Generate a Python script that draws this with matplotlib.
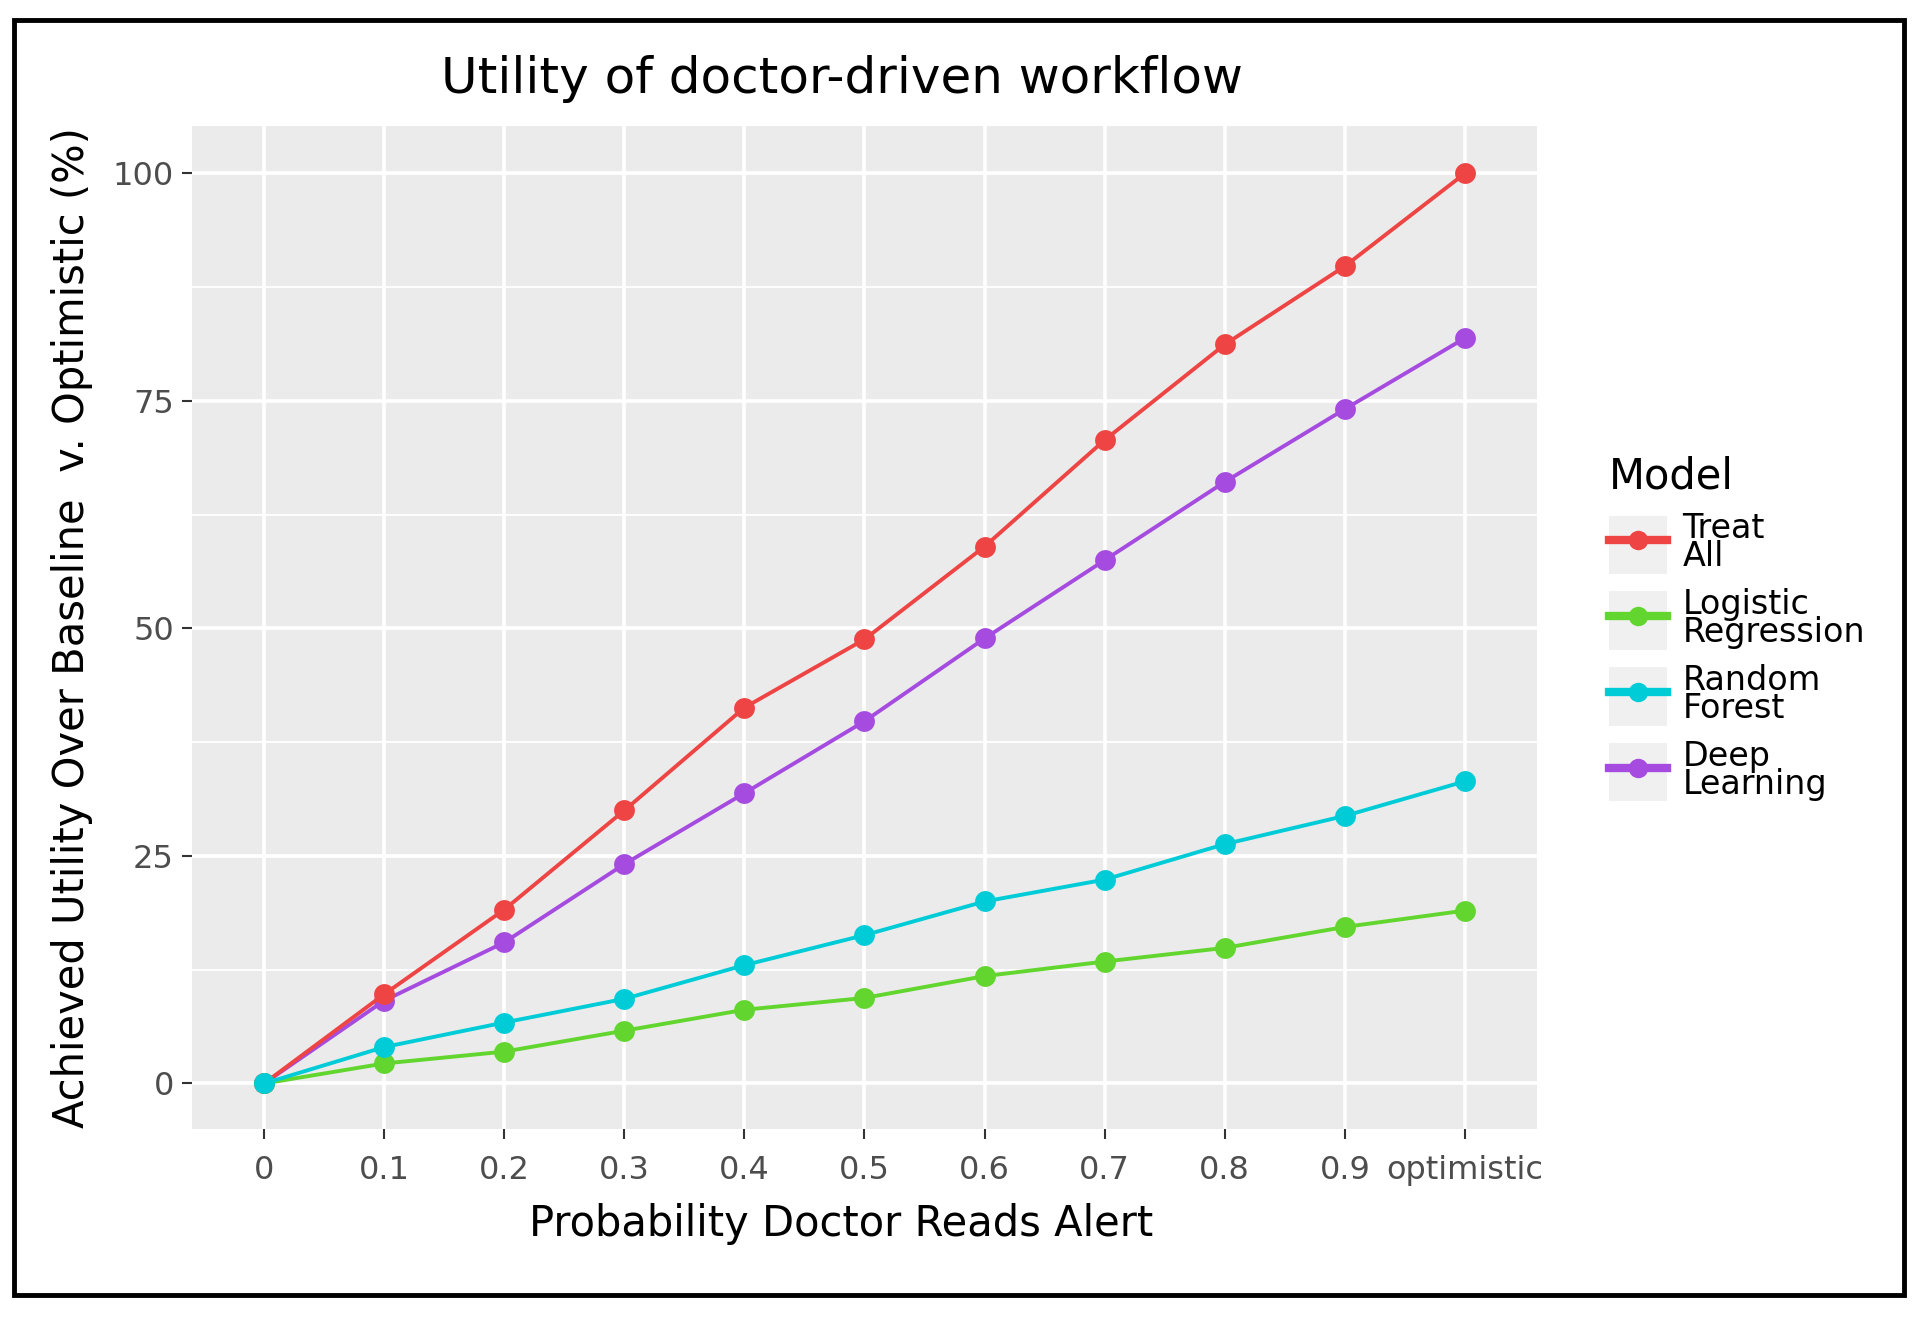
import matplotlib
matplotlib.use("Agg")
import matplotlib.pyplot as plt
from matplotlib.legend_handler import HandlerLine2D
from matplotlib.patches import Rectangle
from matplotlib.lines import Line2D
from matplotlib.ticker import MultipleLocator

plt.rcParams['font.family'] = ['DejaVu Sans']

categories = ["0", "0.1", "0.2", "0.3", "0.4", "0.5", "0.6", "0.7", "0.8", "0.9", "optimistic"]

treat_all = [0, 9.8, 19.1, 30.0, 41.3, 48.8, 59.0, 70.7, 81.2, 89.8, 100.0]
logistic_regression = [0, 2.2, 3.5, 5.8, 8.1, 9.4, 11.8, 13.4, 14.9, 17.2, 19.0]
random_forest = [0, 4.0, 6.7, 9.3, 13.0, 16.3, 20.0, 22.4, 26.3, 29.4, 33.2]
deep_learning = [0, 9.1, 15.5, 24.1, 31.9, 39.8, 48.9, 57.5, 66.1, 74.1, 81.9]

series_names = ["Treat\nAll", "Logistic\nRegression", "Random\nForest", "Deep\nLearning"]
series_colors = ["#EE4444", "#62D62E", "#00CCD8", "#A64BE0"]
series_values = [treat_all, logistic_regression, random_forest, deep_learning]
draw_order = [3, 0, 1, 2]

fig = plt.figure(figsize=(19.2, 13.2), dpi=100)
ax = fig.add_axes([0.100, 0.1447, 0.7005, 0.7598])

ax.set_facecolor("#EBEBEB")
for s in ax.spines.values():
    s.set_visible(False)

x = list(range(len(categories)))
for i in draw_order:
    ax.plot(x, series_values[i], color=series_colors[i], lw=2.8,
            marker='o', ms=15, mec='none', zorder=3)

ax.set_xlim(-0.6, 10.6)
ax.set_ylim(-5.0, 105.2)
ax.set_xticks(x)
ax.set_xticklabels(categories)
ax.yaxis.set_major_locator(MultipleLocator(25))
ax.yaxis.set_minor_locator(MultipleLocator(12.5))
ax.grid(which='major', color='white', lw=2.6, zorder=0)
ax.grid(which='minor', axis='y', color='white', lw=1.3, zorder=0)
ax.set_axisbelow(True)
ax.tick_params(axis='both', which='major', colors='#333333', labelcolor='#4D4D4D',
               labelsize=23, length=7, width=1.5, pad=6)
ax.tick_params(axis='y', which='minor', length=0)
ax.tick_params(axis='x', pad=12)

ax.set_xlabel("Probability Doctor Reads Alert", fontsize=30, labelpad=10)
ax.xaxis.set_label_coords(0.4827, -0.074)
ax.set_ylabel("Achieved Utility Over Baseline  v. Optimistic (%)", fontsize=30, labelpad=14)
fig.text(0.4385, 0.9400, "Utility of doctor-driven workflow", fontsize=36,
         ha='center', va='center')


class KeyHandler(HandlerLine2D):
    def create_artists(self, legend, orig_handle, xdescent, ydescent, width, height,
                       fontsize, trans):
        arts = super().create_artists(legend, orig_handle, xdescent, ydescent,
                                      width, height, fontsize, trans)
        side = width
        rect = Rectangle((-xdescent, -ydescent + height / 2 - side / 2), width, side,
                         facecolor="#F0F0F0", edgecolor='none', transform=trans)
        return [rect] + arts


leg_handles = [Line2D([], [], color=series_colors[i], lw=6, marker='o', ms=14,
                      mec='none') for i in range(4)]
leg = fig.legend(leg_handles, series_names, loc='upper left',
                 bbox_to_anchor=(0.838, 0.655), bbox_transform=fig.transFigure,
                 frameon=False, fontsize=24, title="Model", title_fontsize=30,
                 handlelength=1.75, handleheight=1.5, handletextpad=0.45,
                 labelspacing=0.45, alignment='left', borderpad=0, borderaxespad=0,
                 handler_map={Line2D: KeyHandler()})
for t in leg.get_texts():
    t.set_linespacing(0.8)

border = Rectangle((0.0075, 0.0190), 0.984, 0.9655, transform=fig.transFigure,
                   facecolor='none', edgecolor='black', lw=3.5)
fig.add_artist(border)

fig.savefig("out.png", dpi=100, facecolor='white')
